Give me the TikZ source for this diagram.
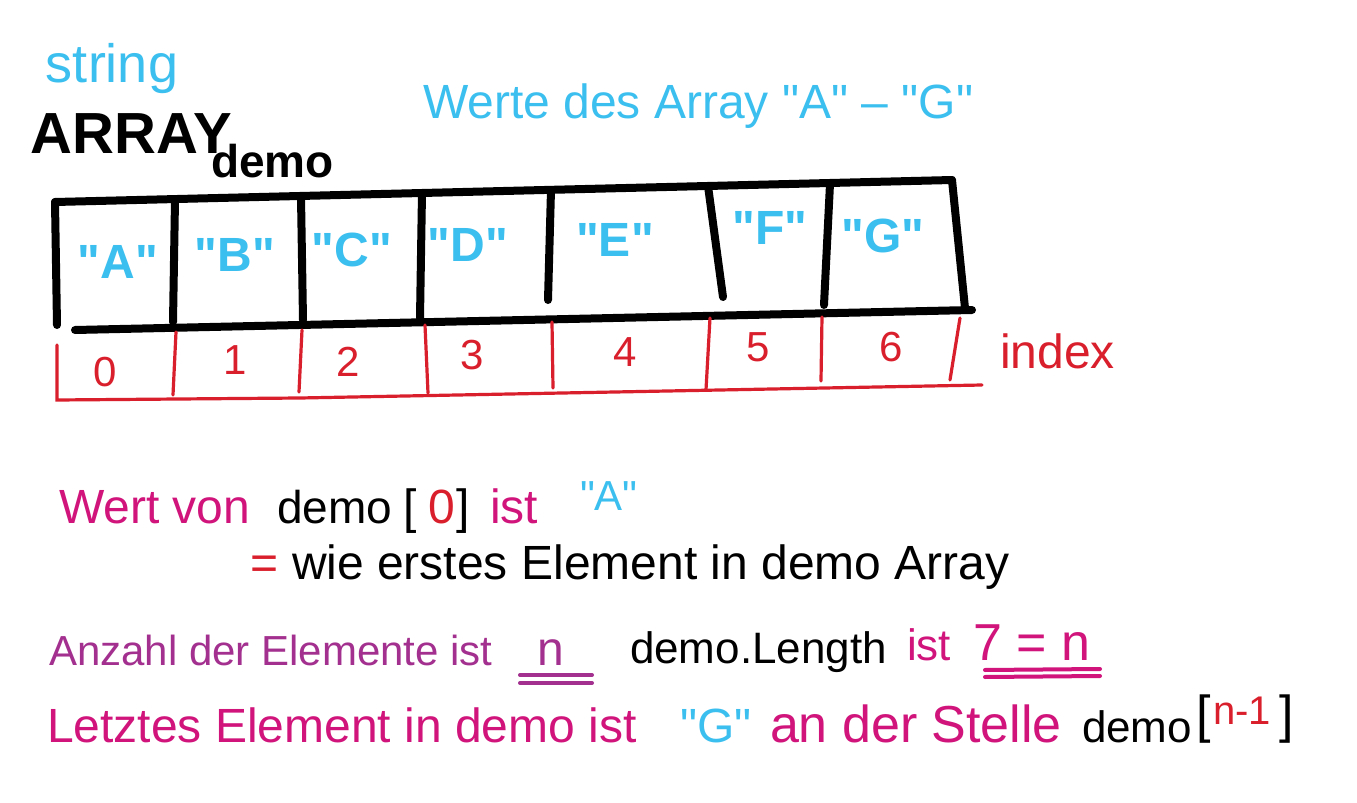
\documentclass[tikz,border=0pt]{standalone}
\usepackage{fontspec}
\setmainfont{Liberation Sans}[Ligatures=TeXOff]
\definecolor{cy}{HTML}{3BBFEF}
\definecolor{mg}{HTML}{D0147C}
\definecolor{pu}{HTML}{A3308F}
\definecolor{rd}{HTML}{DA1F2C}
\tikzset{
  txt/.style={anchor=base west, inner sep=0pt, outer sep=0pt},
  fs/.style={font=\fontsize{#1}{#1}\selectfont},
  fsb/.style={font=\fontsize{#1}{#1}\selectfont\bfseries},
  boxline/.style={line width=4pt, line cap=round, line join=round, black},
  idxline/.style={line width=1.6pt, line cap=round, rd},
  cell/.style={anchor=center, inner sep=0pt, text=cy, font=\fontsize{24}{24}\selectfont\bfseries},
  idx/.style={anchor=center, inner sep=0pt, text=rd, font=\fontsize{21}{21}\selectfont},
  uline/.style={line width=2pt, line cap=round}
}
\begin{document}
\begin{tikzpicture}[x=0.5pt,y=-0.5pt]
\useasboundingbox[fill=white] (0,0) rectangle (1357,803);
% titles
\node[txt, fs=27, text=cy] (str) at (46,83) {string};
\node[txt, fsb=29] (arr) at (31,153) {ARRAY};
\node[txt, fsb=23] (dem) at (211,177) {demo};
\node[txt, fs=24, text=cy] (werte) at (423,118) {Werte des Array "A" – "G"};
% array box
\coordinate (tl) at (55,202);
\coordinate (tr) at (952,180);
\coordinate (bl) at (75,330);
\coordinate (br) at (972,310);
\draw[boxline] (tl) -- (tr);
\draw[boxline] (bl) -- (br);
\draw[boxline] (tl) -- (57,325);
\draw[boxline] (175,200) -- (173,322);
\draw[boxline] (301,197) -- (303,320);
\draw[boxline] (422,193) -- (420,318);
\draw[boxline] (551,190) -- (548,300);
\draw[boxline] (708,186) -- (723,297);
\draw[boxline] (830,184) -- (824,305);
\draw[boxline] (tr) -- (965,308);
% cell contents
\node[cell] (cA) at (118,262) {"A"};
\node[cell] (cB) at (235,255) {"B"};
\node[cell] (cC) at (352,250) {"C"};
\node[cell] (cD) at (468,245) {"D"};
\node[cell] (cE) at (615,240) {"E"};
\node[cell] (cF) at (770,228) {"F"};
\node[cell] (cG) at (883,236) {"G"};
% index row
\draw[idxline] (57,345) -- (57,400) -- (300,398) -- (982,385);
\draw[idxline] (176,332) -- (173,395);
\draw[idxline] (302,330) -- (299,392);
\draw[idxline] (425,325) -- (428,393);
\draw[idxline] (552,322) -- (553,388);
\draw[idxline] (710,318) -- (706,390);
\draw[idxline] (822,317) -- (821,381);
\draw[idxline] (960,318) -- (950,380);
\node[idx] (i0) at (105,372) {0};
\node[idx] (i1) at (235,360) {1};
\node[idx] (i2) at (348,362) {2};
\node[idx] (i3) at (472,355) {3};
\node[idx] (i4) at (625,352) {4};
\node[idx] (i5) at (758,347) {5};
\node[idx] (i6) at (891,347) {6};
\node[txt, fs=24, text=rd] (index) at (1000,368) {index};
% line 1
\node[txt, fs=24, text=mg] (l1a) at (59,523) {Wert von};
\node[txt, fs=23] (l1b) at (277,523) {demo};
\node[txt, fs=24] (l1c) at (403,523) {[};
\node[txt, fs=24, text=rd] (l1d) at (428,523) {0};
\node[txt, fs=24] (l1e) at (456,523) {]};
\node[txt, fs=24, text=mg] (l1f) at (490,523) {ist};
\node[txt, fs=21, text=cy] (l1g) at (580,510) {"A"};
% line 2
\node[txt, fs=24, text=rd] (l2a) at (250,579) {=};
\node[txt, fs=24] (l2b) at (292,579) {wie erstes Element in demo Array};
% line 3
\node[txt, fs=21, text=pu] (l3a) at (49,665) {Anzahl der Elemente ist};
\node[txt, fs=24, text=pu] (l3b) at (537,665) {n};
\draw[uline, pu] (520,675) -- (592,675);
\draw[uline, pu] (520,683) -- (592,683);
\node[txt, fs=22] (l3c) at (630,663) {demo.Length};
\node[txt, fs=22, text=mg] (l3d) at (907,660) {ist};
\node[txt, fs=26, text=mg] (l3e) at (973,660) {7 = n};
\draw[uline, mg] (985,670) -- (1100,669);
\draw[uline, mg] (985,677) -- (1100,676);
% line 4
\node[txt, fs=24, text=mg] (l4a) at (47,742) {Letztes Element in demo ist};
\node[txt, fs=24, text=cy] (l4b) at (680,742) {"G"};
\node[txt, fs=26, text=mg] (l4c) at (770,742) {an der Stelle};
\node[txt, fs=22] (l4d) at (1082,742) {demo};
\node[txt, fs=26] (l4e) at (1196,732) {[};
\node[txt, fs=20, text=rd] (l4f) at (1213,724) {n-1};
\node[txt, fs=26] (l4g) at (1279,732) {]};
\end{tikzpicture}
\end{document}
